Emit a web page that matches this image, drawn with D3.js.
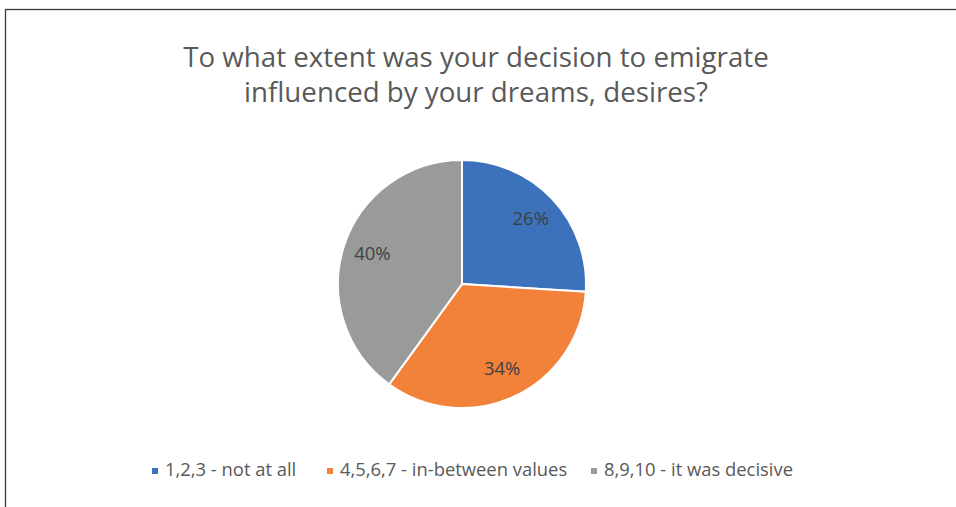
<!DOCTYPE html>
<html>
<head>
<meta charset="utf-8">
<script src="https://cdn.jsdelivr.net/npm/d3@7"></script>
<style>
  html, body { margin: 0; padding: 0; background: #fff; }
  svg { display: block; font-family: "Open Sans", "Noto Sans", sans-serif; }
</style>
</head>
<body>
<svg id="chart" width="956" height="507"></svg>
<script>
// Survey answers grouped into three bands
const categories = ["1,2,3 - not at all", "4,5,6,7 - in-between values", "8,9,10 - it was decisive"];
const values = [26, 34, 40];
const colors = ["#3c72bb", "#f2823a", "#999b9b"];
const titleLines = ["To what extent was your decision to emigrate", "influenced by your dreams, desires?"];

const svg = d3.select("#chart");
const W = 956, H = 507;

// chart frame
svg.append("rect")
  .attr("x", 5.5).attr("y", 9.5)
  .attr("width", W + 10).attr("height", H + 10)
  .attr("fill", "#fff").attr("stroke", "#3a3a3a").attr("stroke-width", 1.3);

// title
const title = svg.append("text")
  .attr("text-anchor", "middle")
  .attr("fill", "#595959")
  .style("font-size", "27.7px");
titleLines.forEach((t, i) => {
  title.append("tspan").attr("x", 476).attr("y", 67 + i * 35).text(t);
});

// pie
const cx = 462, cy = 284, r = 124;
const pie = d3.pie().sort(null).value(d => d)(values);
const arc = d3.arc().innerRadius(0).outerRadius(r);
const labelArc = d3.arc().innerRadius(r * 0.76).outerRadius(r * 0.76);

const g = svg.append("g").attr("transform", `translate(${cx},${cy})`);
g.selectAll("path.slice")
  .data(pie)
  .join("path")
  .attr("class", "slice")
  .attr("d", arc)
  .attr("fill", (d, i) => colors[i])
  .attr("stroke", "#fff")
  .attr("stroke-width", 2)
  .attr("stroke-linejoin", "round");

g.selectAll("text.pct")
  .data(pie)
  .join("text")
  .attr("class", "pct")
  .attr("transform", d => `translate(${labelArc.centroid(d)})`)
  .attr("text-anchor", "middle")
  .attr("dy", "0.3em")
  .attr("fill", "#404040")
  .style("font-size", "18.5px")
  .text(d => d.value + "%");

// legend
const legendBase = 476;
const legendX = [152, 327, 591];
const leg = svg.append("g");
categories.forEach((c, i) => {
  leg.append("rect")
    .attr("x", legendX[i]).attr("y", 468)
    .attr("width", 6).attr("height", 6)
    .attr("fill", colors[i]);
  leg.append("text")
    .attr("x", legendX[i] + 13).attr("y", legendBase)
    .attr("fill", "#595959")
    .style("font-size", "18.4px")
    .text(c);
});
</script>
</body>
</html>
